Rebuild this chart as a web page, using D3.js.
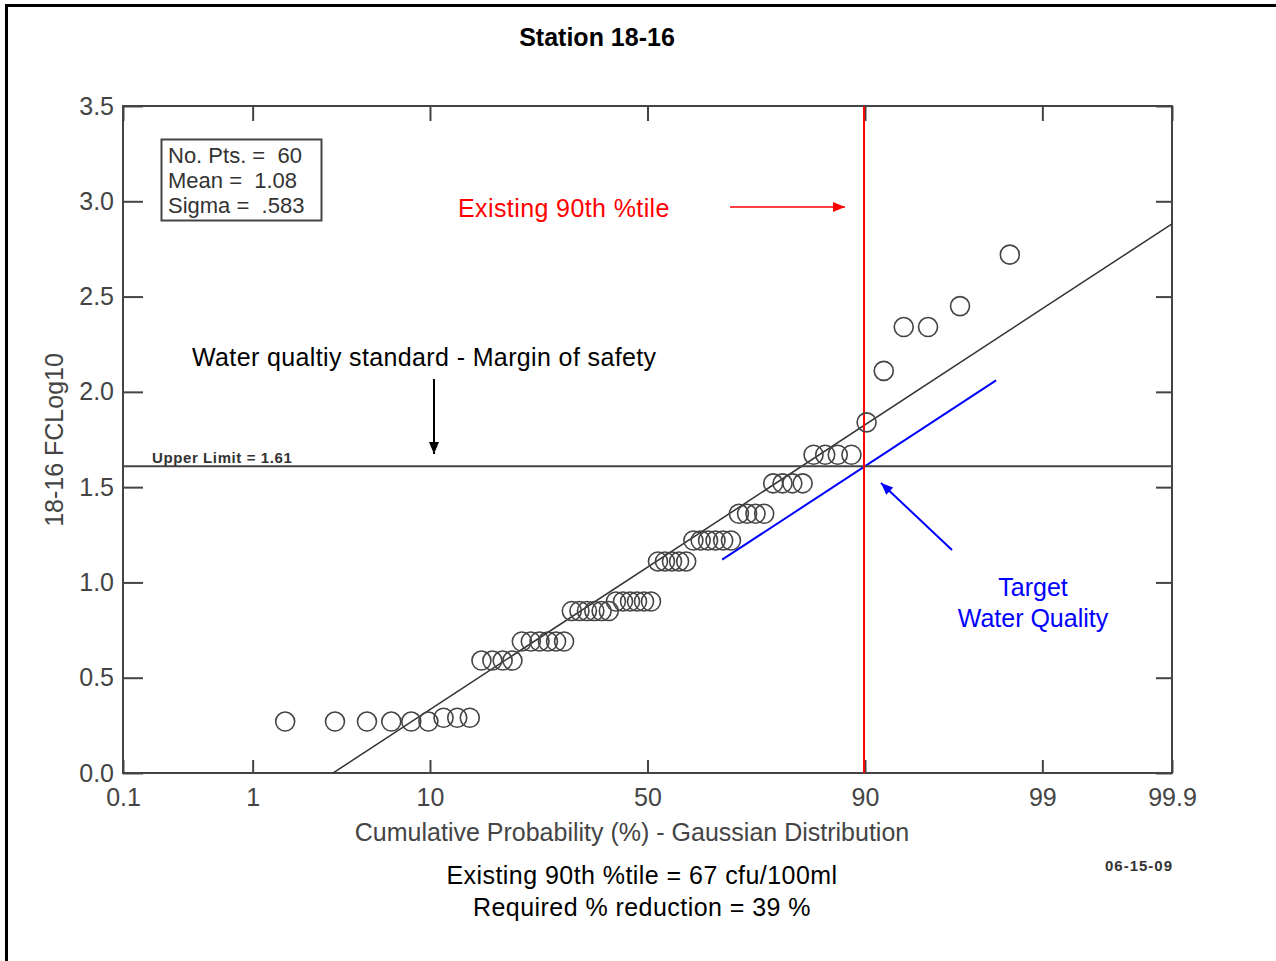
<!DOCTYPE html>
<html>
<head>
<meta charset="utf-8">
<script src="https://cdn.jsdelivr.net/npm/d3@7"></script>
<style>
  body { margin: 0; background: #fff; }
  svg text { font-family: "Liberation Sans", Arial, sans-serif; }
</style>
</head>
<body>
<div id="chart"></div>
<script>
const width = 1276;
const height = 961;

// FC log10 results, sorted ascending (60 samples)
const fcLog10 = [
  0.27, 0.27, 0.27, 0.27, 0.27, 0.27,
  0.29, 0.29, 0.29,
  0.59, 0.59, 0.59, 0.59,
  0.69, 0.69, 0.69, 0.69, 0.69, 0.69,
  0.85, 0.85, 0.85, 0.85, 0.85, 0.85,
  0.9, 0.9, 0.9, 0.9, 0.9, 0.9,
  1.11, 1.11, 1.11, 1.11, 1.11,
  1.22, 1.22, 1.22, 1.22, 1.22, 1.22,
  1.36, 1.36, 1.36, 1.36,
  1.52, 1.52, 1.52, 1.52,
  1.67, 1.67, 1.67, 1.67,
  1.84, 2.11, 2.34, 2.34, 2.45, 2.72
];
const probTicks = [0.1, 1, 10, 50, 90, 99, 99.9];
const valueTicks = [0, 0.5, 1, 1.5, 2, 2.5, 3, 3.5];
const mean = 1.08;
const sigma = 0.583;
const upperLimit = 1.61;
const targetPct = 90;
const targetRange = [67, 98];
const statLines = ["No. Pts. =  60", "Mean =  1.08", "Sigma =  .583"];
const resultLines = ["Existing 90th %tile = 67 cfu/100ml", "Required % reduction = 39 %"];

// inverse normal cdf (Acklam)
const probit = p => {
  const a = [-39.69683028665376, 220.9460984245205, -275.9285104469687, 138.357751867269, -30.66479806614716, 2.506628277459239];
  const b = [-54.47609879822406, 161.5858368580409, -155.6989798598866, 66.80131188771972, -13.28068155288572];
  const c = [-0.007784894002430293, -0.3223964580411365, -2.400758277161838, -2.549732539343734, 4.374664141464968, 2.938163982698783];
  const d = [0.007784695709041462, 0.3224671290700398, 2.445134137142996, 3.754408661907416];
  const plow = 0.02425;
  if (p < plow) {
    const q = Math.sqrt(-2 * Math.log(p));
    return (((((c[0] * q + c[1]) * q + c[2]) * q + c[3]) * q + c[4]) * q + c[5]) /
      ((((d[0] * q + d[1]) * q + d[2]) * q + d[3]) * q + 1);
  }
  if (p > 1 - plow) return -probit(1 - p);
  const q = p - 0.5;
  const r = q * q;
  return (((((a[0] * r + a[1]) * r + a[2]) * r + a[3]) * r + a[4]) * r + a[5]) * q /
    (((((b[0] * r + b[1]) * r + b[2]) * r + b[3]) * r + b[4]) * r + 1);
};

const plot = { left: 123, right: 1172, top: 106, bottom: 773 };
const axisColor = "#444";

const xScale = d3
  .scaleLinear()
  .domain([probit(0.001), probit(0.999)])
  .range([plot.left, plot.right]);

const yScale = d3
  .scaleLinear()
  .domain([0, 3.5])
  .range([plot.bottom, plot.top]);

const pctX = pct => xScale(probit(pct / 100));

const svg = d3
  .select("#chart")
  .append("svg")
  .attr("width", width)
  .attr("height", height);

svg.append("rect").attr("width", width).attr("height", height).attr("fill", "#fff");

// outer picture border (top and left only)
svg.append("line").attr("x1", 5).attr("x2", width).attr("y1", 5.5).attr("y2", 5.5)
  .attr("stroke", "#000").attr("stroke-width", 3);
svg.append("line").attr("x1", 6.5).attr("x2", 6.5).attr("y1", 4).attr("y2", height)
  .attr("stroke", "#000").attr("stroke-width", 3);

const defs = svg.append("defs");
defs.append("clipPath").attr("id", "plot-clip")
  .append("rect")
  .attr("x", plot.left).attr("y", plot.top)
  .attr("width", plot.right - plot.left).attr("height", plot.bottom - plot.top);

["red", "black", "blue"].forEach(col => {
  defs.append("marker")
    .attr("id", "arrow-" + col)
    .attr("viewBox", "0 0 12 10")
    .attr("refX", 12).attr("refY", 5)
    .attr("markerWidth", 14).attr("markerHeight", 10)
    .attr("markerUnits", "userSpaceOnUse")
    .attr("orient", "auto")
    .append("path")
    .attr("d", "M0,0 L12,5 L0,10 Z")
    .attr("fill", col === "blue" ? "#0000ff" : col === "red" ? "#ff0000" : "#000");
});

const styleAxis = g => {
  g.select(".domain").remove();
  g.attr("font-size", 25).attr("font-family", "'Liberation Sans', Arial, sans-serif");
  g.selectAll("line").attr("stroke", axisColor).attr("stroke-width", 2);
  g.selectAll("text").attr("fill", axisColor);
};

const zTicks = probTicks.map(p => probit(p / 100));

svg.append("g")
  .attr("transform", `translate(${plot.left},0)`)
  .call(d3.axisLeft(yScale).tickValues(valueTicks).tickFormat(d3.format(".1f"))
    .tickSizeInner(-20).tickSizeOuter(0).tickPadding(9))
  .call(styleAxis);

svg.append("g")
  .attr("transform", `translate(${plot.right},0)`)
  .call(d3.axisRight(yScale).tickValues(valueTicks).tickFormat("")
    .tickSizeInner(-16).tickSizeOuter(0))
  .call(styleAxis);

svg.append("g")
  .attr("transform", `translate(0,${plot.bottom})`)
  .call(d3.axisBottom(xScale).tickValues(zTicks).tickFormat((d, i) => probTicks[i])
    .tickSizeInner(-13).tickSizeOuter(0).tickPadding(15))
  .call(styleAxis);

svg.append("g")
  .attr("transform", `translate(0,${plot.top})`)
  .call(d3.axisTop(xScale).tickValues(zTicks).tickFormat("")
    .tickSizeInner(-15).tickSizeOuter(0))
  .call(styleAxis);

svg.append("rect")
  .attr("x", plot.left).attr("y", plot.top)
  .attr("width", plot.right - plot.left).attr("height", plot.bottom - plot.top)
  .attr("fill", "none").attr("stroke", axisColor).attr("stroke-width", 2);

const clipped = svg.append("g").attr("clip-path", "url(#plot-clip)");

// fitted normal line
const fitLine = d3.line()
  .x(z => xScale(z))
  .y(z => yScale(mean + sigma * z));

clipped.append("path")
  .datum(xScale.domain())
  .attr("d", fitLine)
  .attr("fill", "none")
  .attr("stroke", "#333")
  .attr("stroke-width", 1.5);

// target line: same sigma, through the upper limit at the 90th percentile
const targetMean = upperLimit - sigma * probit(targetPct / 100);
clipped.append("path")
  .datum(targetRange)
  .attr("d", d3.line()
    .x(p => pctX(p))
    .y(p => yScale(targetMean + sigma * probit(p / 100))))
  .attr("fill", "none")
  .attr("stroke", "#0000ff")
  .attr("stroke-width", 2);

// upper limit
clipped.append("line")
  .attr("x1", plot.left).attr("x2", plot.right)
  .attr("y1", yScale(upperLimit)).attr("y2", yScale(upperLimit))
  .attr("stroke", axisColor).attr("stroke-width", 2);

// existing 90th percentile
clipped.append("line")
  .attr("x1", pctX(targetPct) - 1).attr("x2", pctX(targetPct) - 1)
  .attr("y1", plot.top).attr("y2", plot.bottom)
  .attr("stroke", "#ff0000").attr("stroke-width", 2);

// samples at plotting position i/(n+1)
clipped.selectAll("circle")
  .data(fcLog10)
  .enter()
  .append("circle")
  .attr("cx", (d, i) => xScale(probit((i + 1) / (fcLog10.length + 1))))
  .attr("cy", d => yScale(d))
  .attr("r", 9.5)
  .attr("fill", "none")
  .attr("stroke", "#444")
  .attr("stroke-width", 1.6);

// title and axis titles
svg.append("text")
  .attr("x", 597).attr("y", 46)
  .attr("text-anchor", "middle")
  .attr("font-size", 25).attr("font-weight", "bold")
  .text("Station 18-16");

svg.append("text")
  .attr("transform", "translate(63,440) rotate(-90)")
  .attr("text-anchor", "middle")
  .attr("font-size", 25).attr("fill", axisColor)
  .text("18-16 FCLog10");

svg.append("text")
  .attr("x", 632).attr("y", 841)
  .attr("text-anchor", "middle")
  .attr("font-size", 25).attr("fill", axisColor)
  .text("Cumulative Probability (%) - Gaussian Distribution");

// stats box
svg.append("rect")
  .attr("x", 161.5).attr("y", 139.5).attr("width", 160).attr("height", 81)
  .attr("fill", "#fff").attr("stroke", axisColor).attr("stroke-width", 2);

statLines.forEach((s, i) => {
  svg.append("text")
    .attr("x", 168).attr("y", 163 + i * 25)
    .attr("font-size", 22).attr("fill", "#333")
    .style("white-space", "pre")
    .text(s);
});

// annotations
svg.append("text")
  .attr("x", 458).attr("y", 217)
  .attr("font-size", 25).attr("fill", "#ff0000")
  .attr("letter-spacing", 0.4)
  .text("Existing 90th %tile");
svg.append("line")
  .attr("x1", 730).attr("y1", 207).attr("x2", 845).attr("y2", 207)
  .attr("stroke", "#ff0000").attr("stroke-width", 1.5)
  .attr("marker-end", "url(#arrow-red)");

svg.append("text")
  .attr("x", 192).attr("y", 366)
  .attr("font-size", 25).attr("fill", "#000")
  .attr("letter-spacing", 0.37)
  .text("Water qualtiy standard - Margin of safety");
svg.append("line")
  .attr("x1", 434).attr("y1", 379).attr("x2", 434).attr("y2", 454)
  .attr("stroke", "#000").attr("stroke-width", 2)
  .attr("marker-end", "url(#arrow-black)");

svg.append("text")
  .attr("x", 152).attr("y", 463)
  .attr("font-size", 15).attr("font-weight", "bold").attr("fill", "#333")
  .attr("letter-spacing", 0.6)
  .text("Upper Limit = " + upperLimit);

svg.append("line")
  .attr("x1", 952).attr("y1", 550).attr("x2", 881).attr("y2", 483)
  .attr("stroke", "#0000ff").attr("stroke-width", 2)
  .attr("marker-end", "url(#arrow-blue)");

["Target", "Water Quality"].forEach((s, i) => {
  svg.append("text")
    .attr("x", 1033).attr("y", 596 + i * 31)
    .attr("text-anchor", "middle")
    .attr("font-size", 25).attr("fill", "#0000ff")
    .text(s);
});

resultLines.forEach((s, i) => {
  svg.append("text")
    .attr("x", 642).attr("y", 884 + i * 32)
    .attr("text-anchor", "middle")
    .attr("font-size", 25).attr("fill", "#000")
    .attr("letter-spacing", 0.45)
    .text(s);
});

svg.append("text")
  .attr("x", 1173).attr("y", 871)
  .attr("text-anchor", "end")
  .attr("font-size", 15).attr("font-weight", "bold").attr("fill", "#333")
  .attr("letter-spacing", 1)
  .text("06-15-09");
</script>
</body>
</html>
